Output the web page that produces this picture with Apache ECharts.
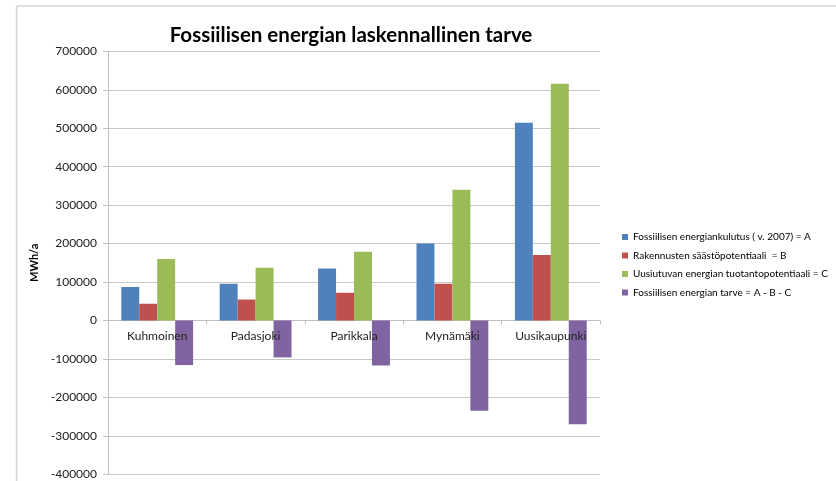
<!DOCTYPE html>
<html>
<head>
<meta charset="utf-8">
<script src="https://cdn.jsdelivr.net/npm/echarts@6/dist/echarts.min.js"></script>
<style>
html,body{margin:0;padding:0;background:#fff;}
#c{width:836px;height:481px;}
</style>
</head>
<body>
<div id="c"></div>
<script>
var categories = ['Kuhmoinen', 'Padasjoki', 'Parikkala', 'Mynämäki', 'Uusikaupunki'];
var seriesNames = [
  'Fossiilisen energiankulutus ( v. 2007) = A',
  'Rakennusten säästöpotentiaali  = B',
  'Uusiutuvan energian tuotantopotentiaali = C',
  'Fossiilisen energian tarve = A - B - C'
];
var valuesA = [87000, 95500, 135500, 200500, 514000];
var valuesB = [43500, 54500, 72000, 95500, 170000];
var valuesC = [160000, 137000, 179000, 340000, 615500];
var valuesD = [-116000, -96000, -117000, -235000, -270000];
var yTicks = [-400000, -300000, -200000, -100000, 0, 100000, 200000, 300000, 400000, 500000, 600000, 700000];

var colors = ['#4F81BD', '#C0504D', '#9BBB59', '#8064A2'];
var font = 'Lato, "Open Sans", sans-serif';
var chart = echarts.init(document.getElementById('c'), null, {renderer: 'canvas'});
var allValues = [valuesA, valuesB, valuesC, valuesD];
var series = allValues.map(function (v, i) {
  return {
    name: seriesNames[i],
    type: 'bar',
    xAxisIndex: 0,
    data: v,
    barGap: '0%',
    barCategoryGap: '27%',
    itemStyle: {color: colors[i]}
  };
});

var gridBottom = 6.7;
chart.setOption({
  animation: false,
  color: colors,
  title: {
    text: 'Fossiilisen energian laskennallinen tarve',
    left: 346,
    textAlign: 'center',
    top: 20,
    textStyle: {fontFamily: font, fontSize: 20.5, fontWeight: 'bold', color: '#000'}
  },
  graphic: [
    {type: 'line', shape: {x1: 16.5, y1: 6, x2: 836, y2: 6}, style: {stroke: '#d4d4d4', lineWidth: 1.5}},
    {type: 'line', shape: {x1: 16.5, y1: 6, x2: 16.5, y2: 481}, style: {stroke: '#d4d4d4', lineWidth: 1.5}}
  ],
  legend: {
    orient: 'vertical',
    left: 617,
    top: 226,
    itemWidth: 6,
    itemHeight: 6,
    itemGap: 6.5,
    icon: 'rect',
    textStyle: {fontFamily: font, fontSize: 10, color: '#000', lineHeight: 12},
    data: seriesNames
  },
  grid: {left: 108, right: 236, top: 51.3, bottom: gridBottom, containLabel: false, outerBoundsMode: 'none'},
  xAxis: [{
    type: 'category',
    data: categories,
    axisLine: {onZero: true, lineStyle: {color: '#bfbfbf', width: 1}},
    axisTick: {show: true, length: 4, lineStyle: {color: '#bfbfbf'}},
    axisLabel: {show: false}
  }, {
    type: 'category',
    data: categories,
    position: 'bottom',
    offset: 0,
    z: 10,
    axisLine: {show: false, onZero: false},
    axisTick: {show: false},
    splitLine: {show: false},
    axisLabel: {fontFamily: font, fontSize: 12, color: '#222', margin: 10}
  }],
  yAxis: {
    type: 'value',
    min: yTicks[0],
    max: yTicks[yTicks.length - 1],
    interval: 100000,
    name: 'MWh/a',
    nameLocation: 'middle',
    nameGap: 57,
    nameRotate: 90,
    nameTextStyle: {fontFamily: font, fontSize: 11, fontWeight: 'bold', color: '#000'},
    axisLine: {show: true, lineStyle: {color: '#bfbfbf', width: 1}},
    axisTick: {show: true, length: 5, lineStyle: {color: '#bfbfbf'}},
    axisLabel: {fontFamily: font, fontSize: 12, color: '#222', margin: 11, formatter: function (v) { return String(v); }},
    splitLine: {show: true, lineStyle: {color: '#c8c8c8', width: 1}}
  },
  series: series
});
// move the label-only axis up onto the zero line, as in the original
var zeroY = chart.convertToPixel({yAxisIndex: 0}, 0);
var bottomY = chart.getHeight() - gridBottom;
chart.setOption({xAxis: [{}, {offset: -(bottomY - zeroY)}]});
</script>
</body>
</html>
